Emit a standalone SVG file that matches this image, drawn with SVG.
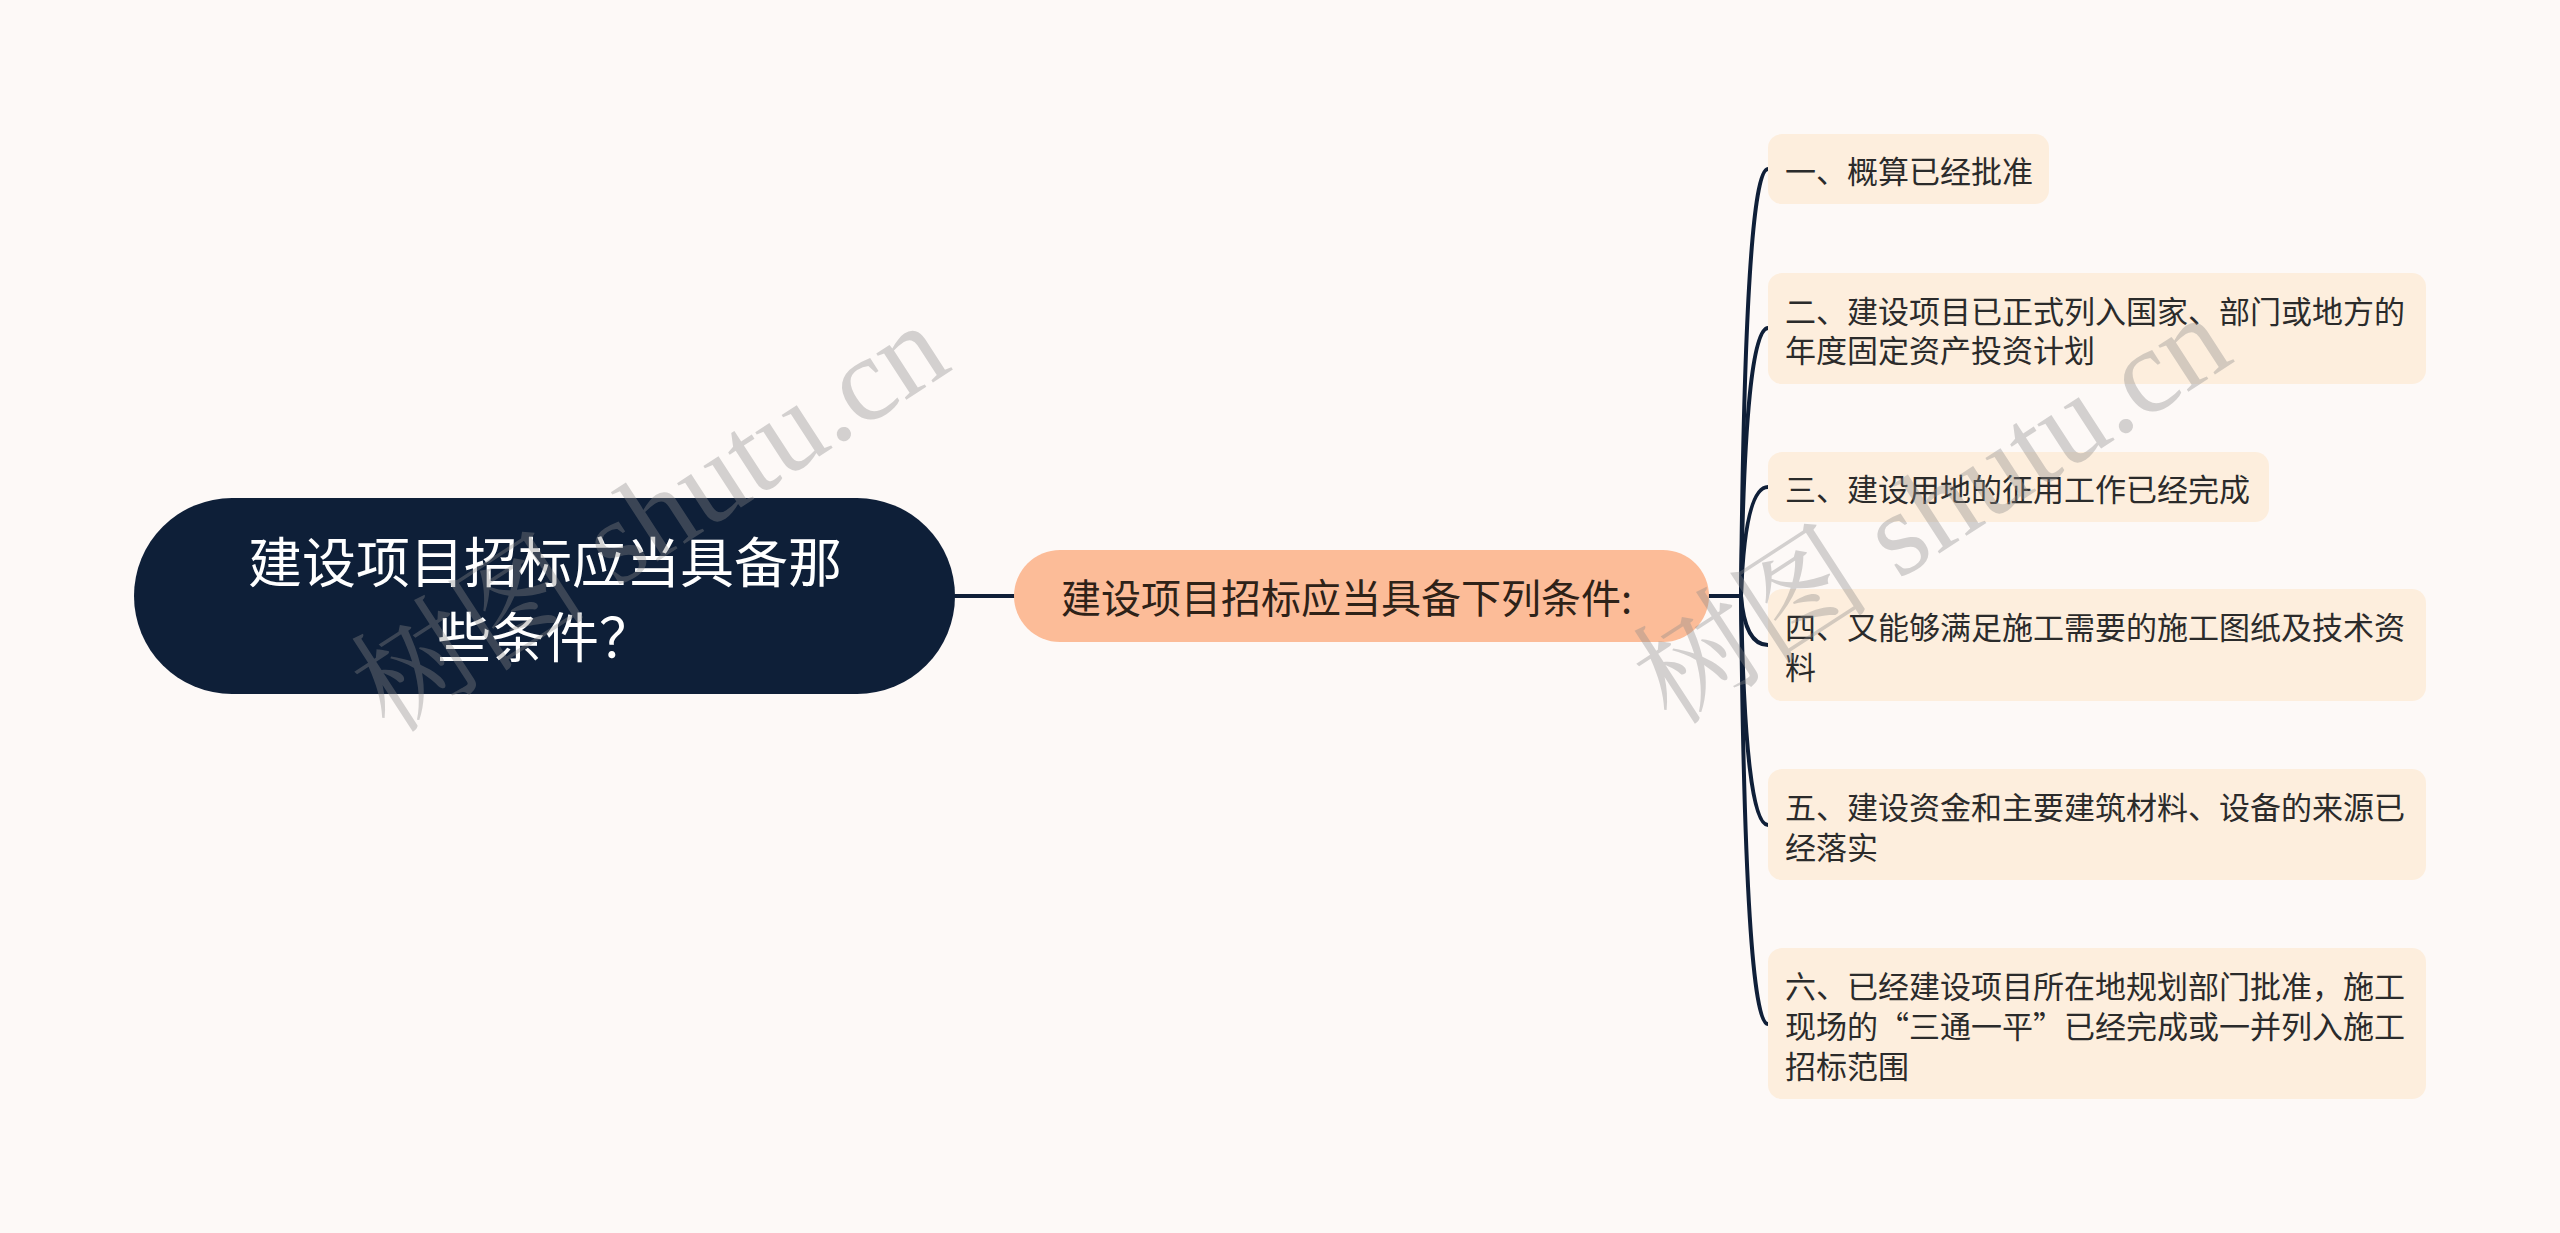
<svg xmlns="http://www.w3.org/2000/svg" width="2560" height="1233" viewBox="0 0 2560 1233">
<style>
.bg{fill:#fdf9f7}
.conn{fill:none;stroke:#0f1f38;stroke-width:4;stroke-linecap:round}
.root{fill:#0e1f38}
.rootT{fill:#ffffff;font-family:"Noto Sans CJK SC","Noto Sans",sans-serif;font-size:54px;text-anchor:middle;dominant-baseline:central}
.mid{fill:#fcbc98}
.midT{fill:#2e2218;font-family:"Noto Sans CJK SC","Noto Sans",sans-serif;font-size:40px;dominant-baseline:central}
.leaf{fill:#fdeedd}
.leafT{fill:#2b2b2b;font-family:"Noto Sans CJK SC","Noto Sans",sans-serif;font-size:31px;dominant-baseline:central}
.wm{fill:#8a8a8a;opacity:0.36;font-family:"Liberation Serif","Noto Serif CJK SC","Noto Sans CJK SC",serif;font-size:120px;text-anchor:middle;dominant-baseline:central}
</style>
<rect class="bg" x="0" y="0" width="2560" height="1233"/>
<g id="connectors">
<path class="conn" d="M955 596 L1014 596"/>
<path class="conn" d="M1709 596 L1741 596"/>
<path class="conn" d="M1741 596 Q1745 169 1768 169"/>
<path class="conn" d="M1741 596 Q1745 328 1768 328"/>
<path class="conn" d="M1741 596 Q1745 487 1768 487"/>
<path class="conn" d="M1741 596 Q1745 645 1768 645"/>
<path class="conn" d="M1741 596 Q1745 825 1768 825"/>
<path class="conn" d="M1741 596 Q1745 1024 1768 1024"/>
</g>
<g id="root">
<rect class="root" x="134" y="498" width="821" height="196" rx="98" ry="98"/>
<text class="rootT" x="545" y="559">建设项目招标应当具备那</text>
<text class="rootT" x="545" y="634">些条件？</text>
</g>
<g id="middle">
<rect class="mid" x="1014" y="550" width="695" height="92" rx="46" ry="46"/>
<text class="midT" x="1061" y="596">建设项目招标应当具备下列条件:</text>
</g>
<g id="leaf1">
<rect class="leaf" x="1768" y="134" width="281" height="70" rx="14"/>
<text class="leafT" x="1785" y="169">一、概算已经批准</text>
</g>
<g id="leaf2">
<rect class="leaf" x="1768" y="273" width="658" height="111" rx="14"/>
<text class="leafT" x="1785" y="309">二、建设项目已正式列入国家、部门或地方的</text>
<text class="leafT" x="1785" y="348">年度固定资产投资计划</text>
</g>
<g id="leaf3">
<rect class="leaf" x="1768" y="452" width="501" height="70" rx="14"/>
<text class="leafT" x="1785" y="487">三、建设用地的征用工作已经完成</text>
</g>
<g id="leaf4">
<rect class="leaf" x="1768" y="589" width="658" height="112" rx="14"/>
<text class="leafT" x="1785" y="625">四、又能够满足施工需要的施工图纸及技术资</text>
<text class="leafT" x="1785" y="665">料</text>
</g>
<g id="leaf5">
<rect class="leaf" x="1768" y="769" width="658" height="111" rx="14"/>
<text class="leafT" x="1785" y="805">五、建设资金和主要建筑材料、设备的来源已</text>
<text class="leafT" x="1785" y="845">经落实</text>
</g>
<g id="leaf6">
<rect class="leaf" x="1768" y="948" width="658" height="151" rx="14"/>
<text class="leafT" x="1785" y="984">六、已经建设项目所在地规划部门批准，施工</text>
<text class="leafT" x="1785" y="1024">现场的“三通一平”已经完成或一并列入施工</text>
<text class="leafT" x="1785" y="1064">招标范围</text>
</g>
<g id="watermarks">
<text class="wm" transform="translate(650 518) rotate(-33)">树图 shutu.cn</text>
<text class="wm" transform="translate(1932 510) rotate(-33)">树图 shutu.cn</text>
</g>
</svg>
